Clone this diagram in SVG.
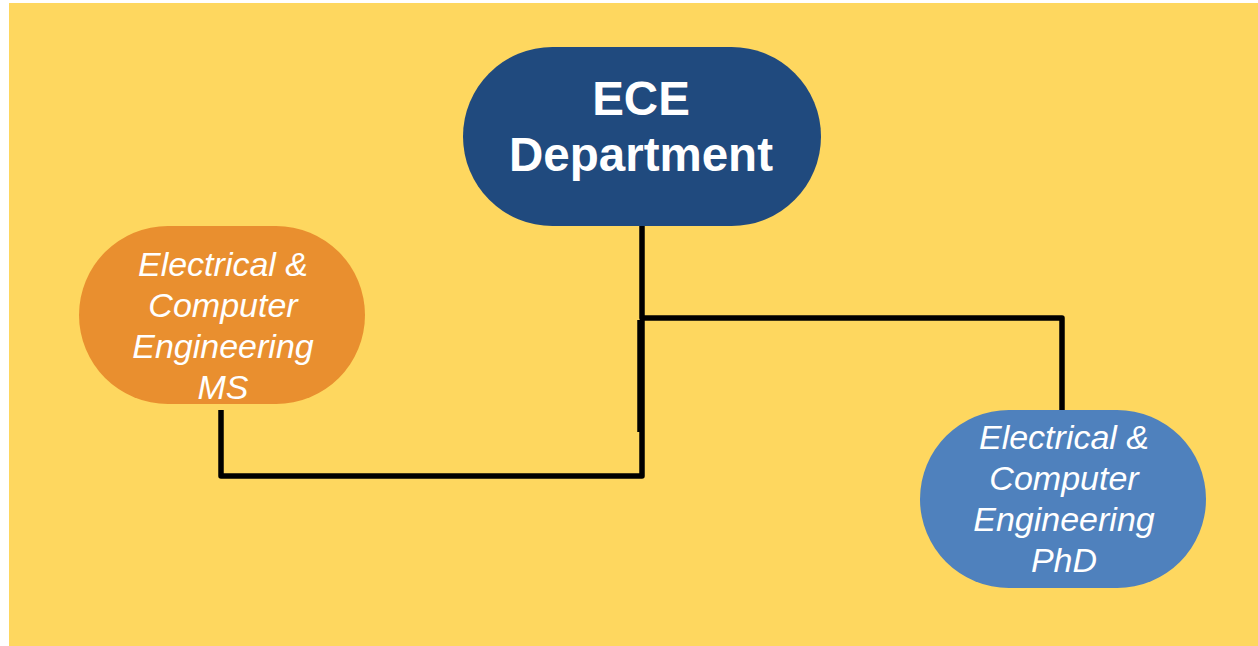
<svg xmlns="http://www.w3.org/2000/svg" width="1258" height="646" viewBox="0 0 1258 646">
<style>
.bg{fill:#FED75F}
.conn{fill:none;stroke:#000;stroke-width:5.5;stroke-linejoin:round;stroke-linecap:butt}
.lbl{font-family:"Liberation Sans",Arial,sans-serif;fill:#fff;text-anchor:middle}
.it{font-style:italic;font-size:34px}
.bd{font-weight:bold;font-size:47.5px}
</style>
<rect x="0" y="0" width="1258" height="646" fill="#fff"/>
<rect class="bg" x="9" y="3" width="1249" height="643"/>
<g id="connectors">
<path class="conn" d="M642,226 V318 H1062 V410"/>
<path class="conn" d="M221,410 V476 H642 V320"/>
<path class="conn" d="M640,320 V432"/>
</g>
<g id="ece">
<rect x="463" y="47" width="358" height="179" rx="89.5" fill="#204A7E"/>
<text class="lbl bd" x="641" y="115">ECE</text>
<text class="lbl bd" x="641" y="171">Department</text>
</g>
<g id="ms">
<rect x="79" y="226" width="286" height="178" rx="89" fill="#E98F2F"/>
<text class="lbl it" x="223" y="276">Electrical &amp;</text>
<text class="lbl it" x="223" y="317">Computer</text>
<text class="lbl it" x="223" y="358">Engineering</text>
<text class="lbl it" x="223" y="399">MS</text>
</g>
<g id="phd">
<rect x="920" y="410" width="286" height="178" rx="89" fill="#4F81BD"/>
<text class="lbl it" x="1064" y="449">Electrical &amp;</text>
<text class="lbl it" x="1064" y="490">Computer</text>
<text class="lbl it" x="1064" y="531">Engineering</text>
<text class="lbl it" x="1064" y="572">PhD</text>
</g>
</svg>
